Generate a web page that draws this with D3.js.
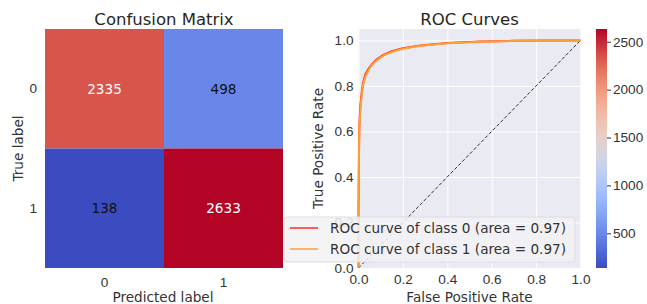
<!DOCTYPE html>
<html>
<head>
<meta charset="utf-8">
<script src="https://cdn.jsdelivr.net/npm/d3@7"></script>
<style>
  body { margin: 0; background: #fff; }
  svg { display: block; font-family: "DejaVu Sans", sans-serif; }
  .tick text { fill: #333; }
</style>
</head>
<body>
<svg id="chart" width="647" height="304"></svg>
<script>
// confusion matrix
const classes = ['0', '1'];
const cmValues = [
  [2335, 498],
  [138, 2633]
];
const cmTextDark = [[false, true], [true, false]];

// roc curves
const fpr0 = [0, 0.000, 0.002, 0.004, 0.008, 0.013, 0.02, 0.03, 0.045, 0.06, 0.08, 0.11, 0.15, 0.2, 0.28, 0.4, 0.55, 0.7, 0.85, 1.0];
const tpr0 = [0, 0.25, 0.50, 0.63, 0.71, 0.76, 0.81, 0.85, 0.875, 0.895, 0.915, 0.935, 0.952, 0.965, 0.977, 0.988, 0.995, 0.998, 0.999, 1.0];
const fpr1 = [0, 0.000, 0.002, 0.004, 0.009, 0.014, 0.021, 0.032, 0.047, 0.062, 0.082, 0.112, 0.152, 0.2, 0.28, 0.4, 0.55, 0.7, 0.85, 1.0];
const tpr1 = [0, 0.24, 0.49, 0.62, 0.70, 0.755, 0.805, 0.845, 0.872, 0.893, 0.913, 0.933, 0.95, 0.963, 0.976, 0.987, 0.994, 0.998, 0.999, 1.0];
const rocLabels = ['ROC curve of class 0 (area = 0.97)', 'ROC curve of class 1 (area = 0.97)'];
const rocColors = ['#ff2a1a', '#ffa033'];
const rocTicks = [0, 0.2, 0.4, 0.6, 0.8, 1.0];

// colorbar
const cbTicks = [500, 1000, 1500, 2000, 2500];
const coolwarm = ['#3b4cc0', '#6788ee', '#9abbff', '#c9d7f0', '#edd1c2', '#f7a889', '#e26952', '#b40426'];

const fs = 13.6;
const svg = d3.select('#chart');
const flat = cmValues.flat();
const vmin = d3.min(flat), vmax = d3.max(flat);
const color = d3.scaleSequential(d3.interpolateRgbBasis(coolwarm)).domain([vmin, vmax]);

// ---- confusion matrix ----
const hm = { left: 45, right: 283, top: 29, bottom: 268 };
const hx = d3.scaleBand().domain(classes).range([hm.left, hm.right]);
const hy = d3.scaleBand().domain(classes).range([hm.top, hm.bottom]);

const cells = [];
cmValues.forEach((row, i) => row.forEach((v, j) => cells.push({ t: classes[i], p: classes[j], v, dark: cmTextDark[i][j] })));

svg.append('g').selectAll('rect')
  .data(cells)
  .join('rect')
  .attr('x', d => hx(d.p))
  .attr('y', d => hy(d.t))
  .attr('width', hx.bandwidth())
  .attr('height', hy.bandwidth())
  .attr('fill', d => color(d.v));

svg.append('g').selectAll('text')
  .data(cells)
  .join('text')
  .attr('x', d => hx(d.p) + hx.bandwidth() / 2)
  .attr('y', d => hy(d.t) + hy.bandwidth() / 2)
  .attr('text-anchor', 'middle')
  .attr('dy', '0.35em')
  .attr('font-size', fs)
  .attr('fill', d => d.dark ? '#111' : '#fff')
  .text(d => d.v);

svg.append('g')
  .attr('transform', `translate(0,${hm.bottom})`)
  .call(d3.axisBottom(hx).tickSize(0).tickPadding(9))
  .call(g => g.select('.domain').remove())
  .selectAll('text').attr('font-size', fs).attr('font-family', null);

svg.append('g')
  .attr('transform', `translate(${hm.left},0)`)
  .call(d3.axisLeft(hy).tickSize(0).tickPadding(8))
  .call(g => g.select('.domain').remove())
  .selectAll('text').attr('font-size', fs).attr('font-family', null);

svg.append('text')
  .attr('x', (hm.left + hm.right) / 2).attr('y', 25)
  .attr('text-anchor', 'middle').attr('font-size', 16.5).attr('fill', '#262626')
  .text('Confusion Matrix');
svg.append('text')
  .attr('x', 163).attr('y', 302)
  .attr('text-anchor', 'middle').attr('font-size', fs).attr('fill', '#333')
  .text('Predicted label');
svg.append('text')
  .attr('transform', `translate(23,${(hm.top + hm.bottom) / 2}) rotate(-90)`)
  .attr('text-anchor', 'middle').attr('font-size', fs).attr('fill', '#333')
  .text('True label');

// ---- roc curves ----
const ra = { left: 358.5, right: 580.5, top: 29, bottom: 268 };
const x = d3.scaleLinear().domain([0, 1]).range([ra.left, ra.right]);
const y = d3.scaleLinear().domain([0, 1.05]).range([ra.bottom, ra.top]);

svg.append('rect')
  .attr('x', ra.left).attr('y', ra.top)
  .attr('width', ra.right - ra.left).attr('height', ra.bottom - ra.top)
  .attr('fill', '#eaeaf2');

svg.append('g')
  .attr('transform', `translate(0,${ra.bottom})`)
  .call(d3.axisBottom(x).tickValues(rocTicks).tickFormat(d3.format('.1f')).tickSize(-(ra.bottom - ra.top)).tickPadding(6))
  .call(g => g.select('.domain').remove())
  .call(g => g.selectAll('line').attr('stroke', '#fff').attr('stroke-width', 1))
  .selectAll('text').attr('font-size', fs).attr('font-family', null);

svg.append('g')
  .attr('transform', `translate(${ra.left},0)`)
  .call(d3.axisLeft(y).tickValues(rocTicks).tickFormat(d3.format('.1f')).tickSize(-(ra.right - ra.left)).tickPadding(5))
  .call(g => g.select('.domain').remove())
  .call(g => g.selectAll('line').attr('stroke', '#fff').attr('stroke-width', 1))
  .selectAll('text').attr('font-size', fs).attr('font-family', null);

const line = d3.line().x(d => x(d[0])).y(d => y(d[1]));
const curves = [d3.zip(fpr0, tpr0), d3.zip(fpr1, tpr1)];

svg.append('path')
  .attr('d', line([[0, 0], [1, 1]]))
  .attr('fill', 'none').attr('stroke', '#333').attr('stroke-width', 1)
  .attr('stroke-dasharray', '3.5,2');

svg.append('g').selectAll('path')
  .data(curves)
  .join('path')
  .attr('d', line)
  .attr('fill', 'none')
  .attr('stroke', (d, i) => rocColors[i])
  .attr('stroke-width', 2);

svg.append('text')
  .attr('x', (ra.left + ra.right) / 2).attr('y', 25)
  .attr('text-anchor', 'middle').attr('font-size', 16.5).attr('fill', '#262626')
  .text('ROC Curves');
svg.append('text')
  .attr('x', (ra.left + ra.right) / 2).attr('y', 302)
  .attr('text-anchor', 'middle').attr('font-size', fs).attr('fill', '#333')
  .text('False Positive Rate');
svg.append('text')
  .attr('transform', `translate(323,${(ra.top + ra.bottom) / 2}) rotate(-90)`)
  .attr('text-anchor', 'middle').attr('font-size', fs).attr('fill', '#333')
  .text('True Positive Rate');

// legend
const lg = svg.append('g').attr('transform', 'translate(284,217)');
lg.append('rect')
  .attr('width', 291).attr('height', 45).attr('rx', 3)
  .attr('fill', '#f2f2f6').attr('fill-opacity', 0.85)
  .attr('stroke', '#dcdce4');
const items = lg.selectAll('g.item')
  .data(rocLabels)
  .join('g')
  .attr('class', 'item')
  .attr('transform', (d, i) => `translate(0,${11 + i * 21})`);
items.append('line')
  .attr('x1', 6).attr('x2', 34)
  .attr('stroke', (d, i) => rocColors[i]).attr('stroke-width', 1.5);
items.append('text')
  .attr('x', 46).attr('dy', '0.35em')
  .attr('font-size', fs).attr('fill', '#333')
  .text(d => d);

// ---- colorbar ----
const cb = { left: 596, width: 11 };
const cy = d3.scaleLinear().domain([vmin, vmax]).range([hm.bottom, hm.top]);
const grad = svg.append('defs').append('linearGradient')
  .attr('id', 'cbgrad').attr('x1', 0).attr('x2', 0).attr('y1', 1).attr('y2', 0);
grad.selectAll('stop')
  .data(d3.range(0, 1.0001, 0.05))
  .join('stop')
  .attr('offset', d => d)
  .attr('stop-color', d => color(vmin + d * (vmax - vmin)));
svg.append('rect')
  .attr('x', cb.left).attr('y', hm.top)
  .attr('width', cb.width).attr('height', hm.bottom - hm.top)
  .attr('fill', 'url(#cbgrad)');
svg.append('g')
  .attr('transform', `translate(${cb.left + cb.width},0)`)
  .call(d3.axisRight(cy).tickValues(cbTicks).tickFormat(d3.format('d')).tickSize(4).tickPadding(2))
  .call(g => g.select('.domain').remove())
  .call(g => g.selectAll('line').attr('stroke', '#333'))
  .selectAll('text').attr('font-size', fs).attr('font-family', null);
</script>
</body>
</html>
